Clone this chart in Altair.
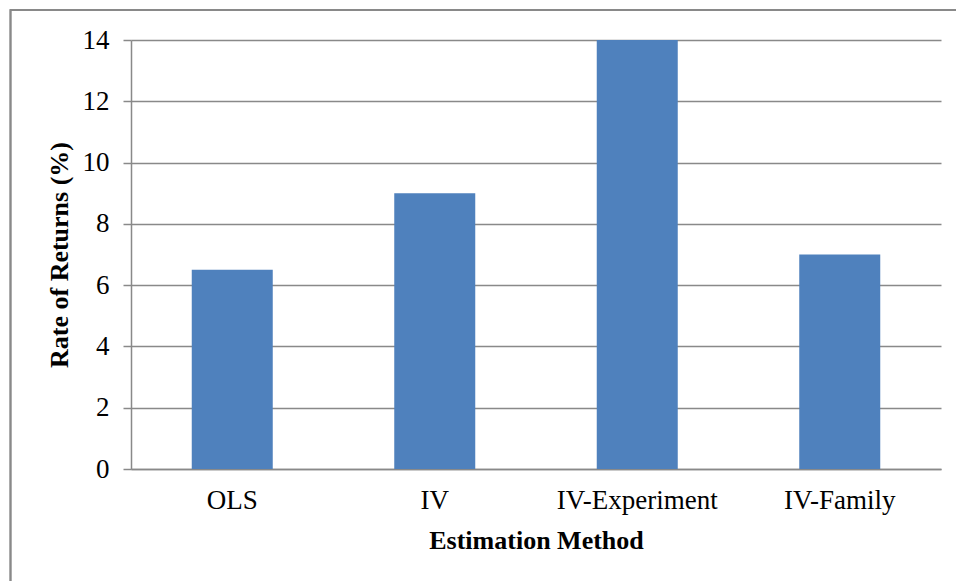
import altair as alt
import pandas as pd

methods = ["OLS", "IV", "IV-Experiment", "IV-Family"]
returns = [6.5, 9.0, 14.0, 7.0]
y_ticks = [0, 2, 4, 6, 8, 10, 12, 14]

df = pd.DataFrame({"method": methods, "ret": returns})

FONT = "Liberation Serif"
GRAY = "#898989"
W, H = 810, 429

bars = alt.Chart(df).mark_bar(color="#4F81BD").encode(
    x=alt.X(
        "method:N",
        sort=methods,
        scale=alt.Scale(paddingInner=0.6, paddingOuter=0.3),
        axis=alt.Axis(
            title="Estimation Method",
            labelAngle=0,
            ticks=False,
            grid=False,
            domainColor=GRAY,
            domainWidth=1.5,
            labelFont=FONT,
            labelFontSize=27,
            labelColor="black",
            labelPadding=18,
            titleFont=FONT,
            titleFontSize=26,
            titleFontWeight="bold",
            titleColor="black",
            titlePadding=14,
        ),
    ),
    y=alt.Y(
        "ret:Q",
        scale=alt.Scale(domain=[0, 14], nice=False),
        axis=alt.Axis(
            title="Rate of Returns (%)",
            values=y_ticks,
            format="d",
            grid=True,
            gridColor=GRAY,
            gridWidth=1.5,
            domainColor=GRAY,
            domainWidth=1.5,
            tickColor=GRAY,
            tickWidth=1.5,
            tickSize=8,
            labelFont=FONT,
            labelFontSize=27,
            labelColor="black",
            labelPadding=14,
            titleFont=FONT,
            titleFontSize=26,
            titleFontWeight="bold",
            titleColor="black",
            titlePadding=10,
        ),
    ),
)

border = alt.Chart(df).mark_rect(
    fill=None, stroke=GRAY, strokeWidth=1.5
).encode(
    x=alt.value(-120.5),
    x2=alt.value(835),
    y=alt.value(-30),
    y2=alt.value(560),
)

chart = alt.layer(bars, border).properties(
    width=W,
    height=H,
    autosize=alt.AutoSizeParams(type="none"),
    padding={"left": 131, "top": 40, "right": 15, "bottom": 112},
    background="white",
).configure_view(stroke=None)

chart.save("out.html", embed_options={"renderer": "svg", "actions": False})
